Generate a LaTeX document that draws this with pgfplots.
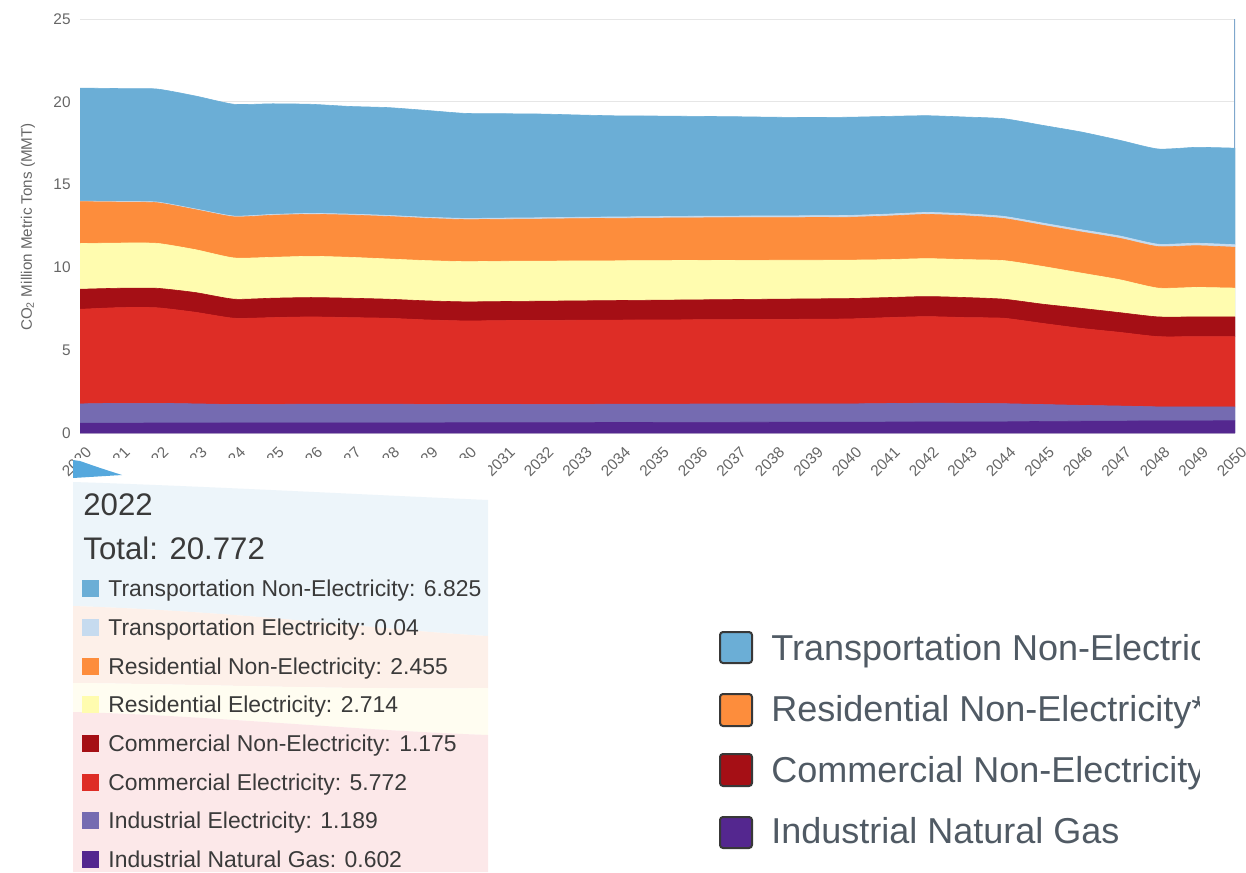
\documentclass[border=0pt]{standalone}
\usepackage{fontspec}
\setmainfont{Liberation Sans}
\usepackage{pgfplots}
\usepackage{pgfplotstable}
\pgfplotsset{compat=1.18}
\definecolor{tne}{HTML}{6BAED6}
\definecolor{tel}{HTML}{C6DBEF}
\definecolor{rne}{HTML}{FD8D3C}
\definecolor{rel}{HTML}{FFFCAF}
\definecolor{cne}{HTML}{A50F15}
\definecolor{cel}{HTML}{DE2D26}
\definecolor{iel}{HTML}{756BB1}
\definecolor{ing}{HTML}{54278F}
\definecolor{txtgray}{HTML}{666666}
\definecolor{gridc}{HTML}{E6E6E6}
\definecolor{axisc}{HTML}{CCD6EB}
\definecolor{hov}{HTML}{7FA7CC}
\definecolor{tipblue}{HTML}{EDF5FA}
\definecolor{tippeach}{HTML}{FDF0E9}
\definecolor{tipyellow}{HTML}{FFFDF1}
\definecolor{tippink}{HTML}{FCE8E9}
\definecolor{wedge}{HTML}{55A8DD}
\definecolor{tiptext}{HTML}{3A3A3A}
\definecolor{legtext}{HTML}{505A64}
\definecolor{legborder}{HTML}{383838}
\pgfplotstableread{
year IG IE CE CN RE RN TE TN
2020 0.600 1.160 5.710 1.210 2.760 2.530 0.030 6.830
2021 0.600 1.190 5.780 1.170 2.730 2.475 0.035 6.820
2022 0.602 1.189 5.772 1.175 2.714 2.455 0.040 6.825
2023 0.603 1.157 5.530 1.190 2.590 2.416 0.044 6.820
2024 0.605 1.115 5.210 1.150 2.490 2.482 0.048 6.750
2025 0.606 1.124 5.240 1.170 2.470 2.538 0.052 6.680
2026 0.608 1.132 5.270 1.170 2.490 2.534 0.056 6.590
2027 0.610 1.130 5.230 1.170 2.470 2.550 0.060 6.500
2028 0.612 1.128 5.190 1.150 2.430 2.566 0.064 6.510
2029 0.615 1.115 5.100 1.150 2.430 2.552 0.068 6.450
2030 0.618 1.102 5.050 1.150 2.430 2.538 0.072 6.340
2031 0.622 1.098 5.070 1.150 2.430 2.534 0.076 6.300
2032 0.626 1.104 5.070 1.160 2.420 2.540 0.080 6.260
2033 0.630 1.100 5.080 1.170 2.410 2.556 0.084 6.170
2034 0.634 1.106 5.080 1.180 2.400 2.562 0.088 6.100
2035 0.638 1.102 5.090 1.190 2.390 2.568 0.092 6.070
2036 0.642 1.108 5.090 1.200 2.380 2.574 0.096 6.030
2037 0.646 1.104 5.100 1.210 2.360 2.580 0.100 6.000
2038 0.650 1.100 5.110 1.220 2.350 2.576 0.104 5.960
2039 0.654 1.106 5.110 1.230 2.330 2.582 0.108 5.930
2040 0.658 1.102 5.130 1.230 2.320 2.588 0.112 5.930
2041 0.662 1.118 5.190 1.210 2.290 2.634 0.116 5.900
2042 0.666 1.134 5.230 1.210 2.290 2.670 0.120 5.840
2043 0.670 1.120 5.180 1.210 2.290 2.646 0.124 5.840
2044 0.675 1.095 5.160 1.150 2.330 2.542 0.128 5.900
2045 0.700 1.020 4.900 1.160 2.280 2.488 0.132 5.900
2046 0.710 0.960 4.650 1.210 2.130 2.484 0.136 5.900
2047 0.720 0.910 4.450 1.190 1.990 2.500 0.140 5.780
2048 0.730 0.850 4.240 1.190 1.740 2.506 0.144 5.750
2049 0.735 0.845 4.240 1.190 1.780 2.522 0.148 5.790
2050 0.740 0.830 4.250 1.190 1.740 2.468 0.152 5.830
}\datatable
\begin{document}
\begin{tikzpicture}
\path[use as bounding box] (0,0) rectangle (623pt,-436pt);
\begin{axis}[
  at={(40pt,-216.5pt)}, anchor=south west,
  scale only axis, width=577.5pt, height=207pt,
  xmin=2020, xmax=2050, ymin=0, ymax=25,
  enlargelimits=false,
  stack plots=y,
  axis line style={draw=none},
  tick style={draw=none},
  ytick={0,5,10,15,20,25},
  xtick={2020,2021,...,2050},
  ymajorgrids,
  grid style={gridc, line width=0.5pt},
  /pgf/number format/assume math mode=true,
  xticklabel style={/pgf/number format/1000 sep={}, rotate=45, anchor=north east,
     font=\fontsize{7.7}{8}\selectfont, text=txtgray, inner sep=0pt, xshift=-2.5pt, yshift=-6pt},
  yticklabel style={font=\fontsize{7.7}{8}\selectfont, text=txtgray, inner sep=0pt, anchor=east, xshift=-4.5pt},
]
\addplot[fill=ing, draw=ing, line width=0.3pt, smooth, tension=0.35] table[x=year,y=IG]{\datatable} \closedcycle;
\addplot[fill=iel, draw=iel, line width=0.3pt, smooth, tension=0.35] table[x=year,y=IE]{\datatable} \closedcycle;
\addplot[fill=cel, draw=cel, line width=0.3pt, smooth, tension=0.35] table[x=year,y=CE]{\datatable} \closedcycle;
\addplot[fill=cne, draw=cne, line width=0.3pt, smooth, tension=0.35] table[x=year,y=CN]{\datatable} \closedcycle;
\addplot[fill=rel, draw=rel, line width=0.3pt, smooth, tension=0.35] table[x=year,y=RE]{\datatable} \closedcycle;
\addplot[fill=rne, draw=rne, line width=0.3pt, smooth, tension=0.35] table[x=year,y=RN]{\datatable} \closedcycle;
\addplot[fill=tel, draw=tel, line width=0.3pt, smooth, tension=0.35] table[x=year,y=TE]{\datatable} \closedcycle;
\addplot[fill=tne, draw=tne, line width=0.3pt, smooth, tension=0.35] table[x=year,y=TN]{\datatable} \closedcycle;
\draw[axisc, line width=0.6pt, yshift=-1pt] (axis cs:2020,0) -- (axis cs:2050,0);
\draw[hov, line width=1pt] (axis cs:2050,0) -- (axis cs:2050,25);
\end{axis}
\begin{scope}[x=0.5pt,y=-0.5pt]
\node[rotate=90, inner sep=0pt, font=\fontsize{7.6}{9}\selectfont, text=txtgray] at (28,227) {CO\textsubscript{2} Million Metric Tons (MMT)};
% tooltip
\fill[white] (73,458) rectangle (488,872);
\fill[tipblue] (73,482) .. controls (200,486) and (350,494) .. (488,500) -- (488,636) .. controls (380,630) and (250,612) .. (73,606) -- cycle;
\fill[tippeach] (73,606) .. controls (250,612) and (380,630) .. (488,636) -- (488,688) .. controls (350,690) and (200,684) .. (73,683) -- cycle;
\fill[tipyellow] (73,683) .. controls (200,684) and (350,690) .. (488,688) -- (488,735) .. controls (350,730) and (200,715) .. (73,712) -- cycle;
\fill[tippink] (73,712) .. controls (200,715) and (350,730) .. (488,735) -- (488,872) -- (73,872) -- cycle;
\fill[wedge] (73,460) -- (80,461) .. controls (100,468) .. (122,475) -- (73,478) -- cycle;
\node[anchor=base west, inner sep=0pt, font=\fontsize{15.6}{18}\selectfont, text=tiptext] at (83,515) {2022};
\node[anchor=base west, inner sep=0pt, font=\fontsize{15.6}{18}\selectfont, text=tiptext] at (83,559) {Total: 20.772};
\fill[tne] (82,580) rectangle (99,597);
\node[anchor=base west, inner sep=0pt, font=\fontsize{11.45}{13}\selectfont, text=tiptext] at (108,596) {Transportation Non-Electricity: 6.825};
\fill[tel] (82,619) rectangle (99,636);
\node[anchor=base west, inner sep=0pt, font=\fontsize{11.45}{13}\selectfont, text=tiptext] at (108,635) {Transportation Electricity: 0.04};
\fill[rne] (82,658) rectangle (99,675);
\node[anchor=base west, inner sep=0pt, font=\fontsize{11.45}{13}\selectfont, text=tiptext] at (108,674) {Residential Non-Electricity: 2.455};
\fill[rel] (82,696) rectangle (99,713);
\node[anchor=base west, inner sep=0pt, font=\fontsize{11.45}{13}\selectfont, text=tiptext] at (108,712) {Residential Electricity: 2.714};
\fill[cne] (82,735) rectangle (99,752);
\node[anchor=base west, inner sep=0pt, font=\fontsize{11.45}{13}\selectfont, text=tiptext] at (108,751) {Commercial Non-Electricity: 1.175};
\fill[cel] (82,774) rectangle (99,791);
\node[anchor=base west, inner sep=0pt, font=\fontsize{11.45}{13}\selectfont, text=tiptext] at (108,790) {Commercial Electricity: 5.772};
\fill[iel] (82,812) rectangle (99,829);
\node[anchor=base west, inner sep=0pt, font=\fontsize{11.45}{13}\selectfont, text=tiptext] at (108,828) {Industrial Electricity: 1.189};
\fill[ing] (82,851) rectangle (99,868);
\node[anchor=base west, inner sep=0pt, font=\fontsize{11.45}{13}\selectfont, text=tiptext] at (108,867) {Industrial Natural Gas: 0.602};
% legend
\begin{scope}
\clip (700,600) rectangle (1199,872);
\filldraw[fill=tne, draw=legborder, line width=1pt, rounded corners=1.5pt] (720,632) rectangle (752,663);
\node[anchor=base west, inner sep=0pt, font=\fontsize{18}{22}\selectfont, text=legtext] at (771,660) {Transportation Non-Electricity};
\filldraw[fill=rne, draw=legborder, line width=1pt, rounded corners=1.5pt] (720,694) rectangle (752,726);
\node[anchor=base west, inner sep=0pt, font=\fontsize{18}{22}\selectfont, text=legtext] at (771,721) {Residential Non-Electricity*};
\filldraw[fill=cne, draw=legborder, line width=1pt, rounded corners=1.5pt] (720,754) rectangle (752,786);
\node[anchor=base west, inner sep=0pt, font=\fontsize{18}{22}\selectfont, text=legtext] at (771,782) {Commercial Non-Electricity};
\filldraw[fill=ing, draw=legborder, line width=1pt, rounded corners=1.5pt] (720,817) rectangle (752,848);
\node[anchor=base west, inner sep=0pt, font=\fontsize{18}{22}\selectfont, text=legtext] at (771,843) {Industrial Natural Gas};
\end{scope}
\end{scope}
\end{tikzpicture}
\end{document}
